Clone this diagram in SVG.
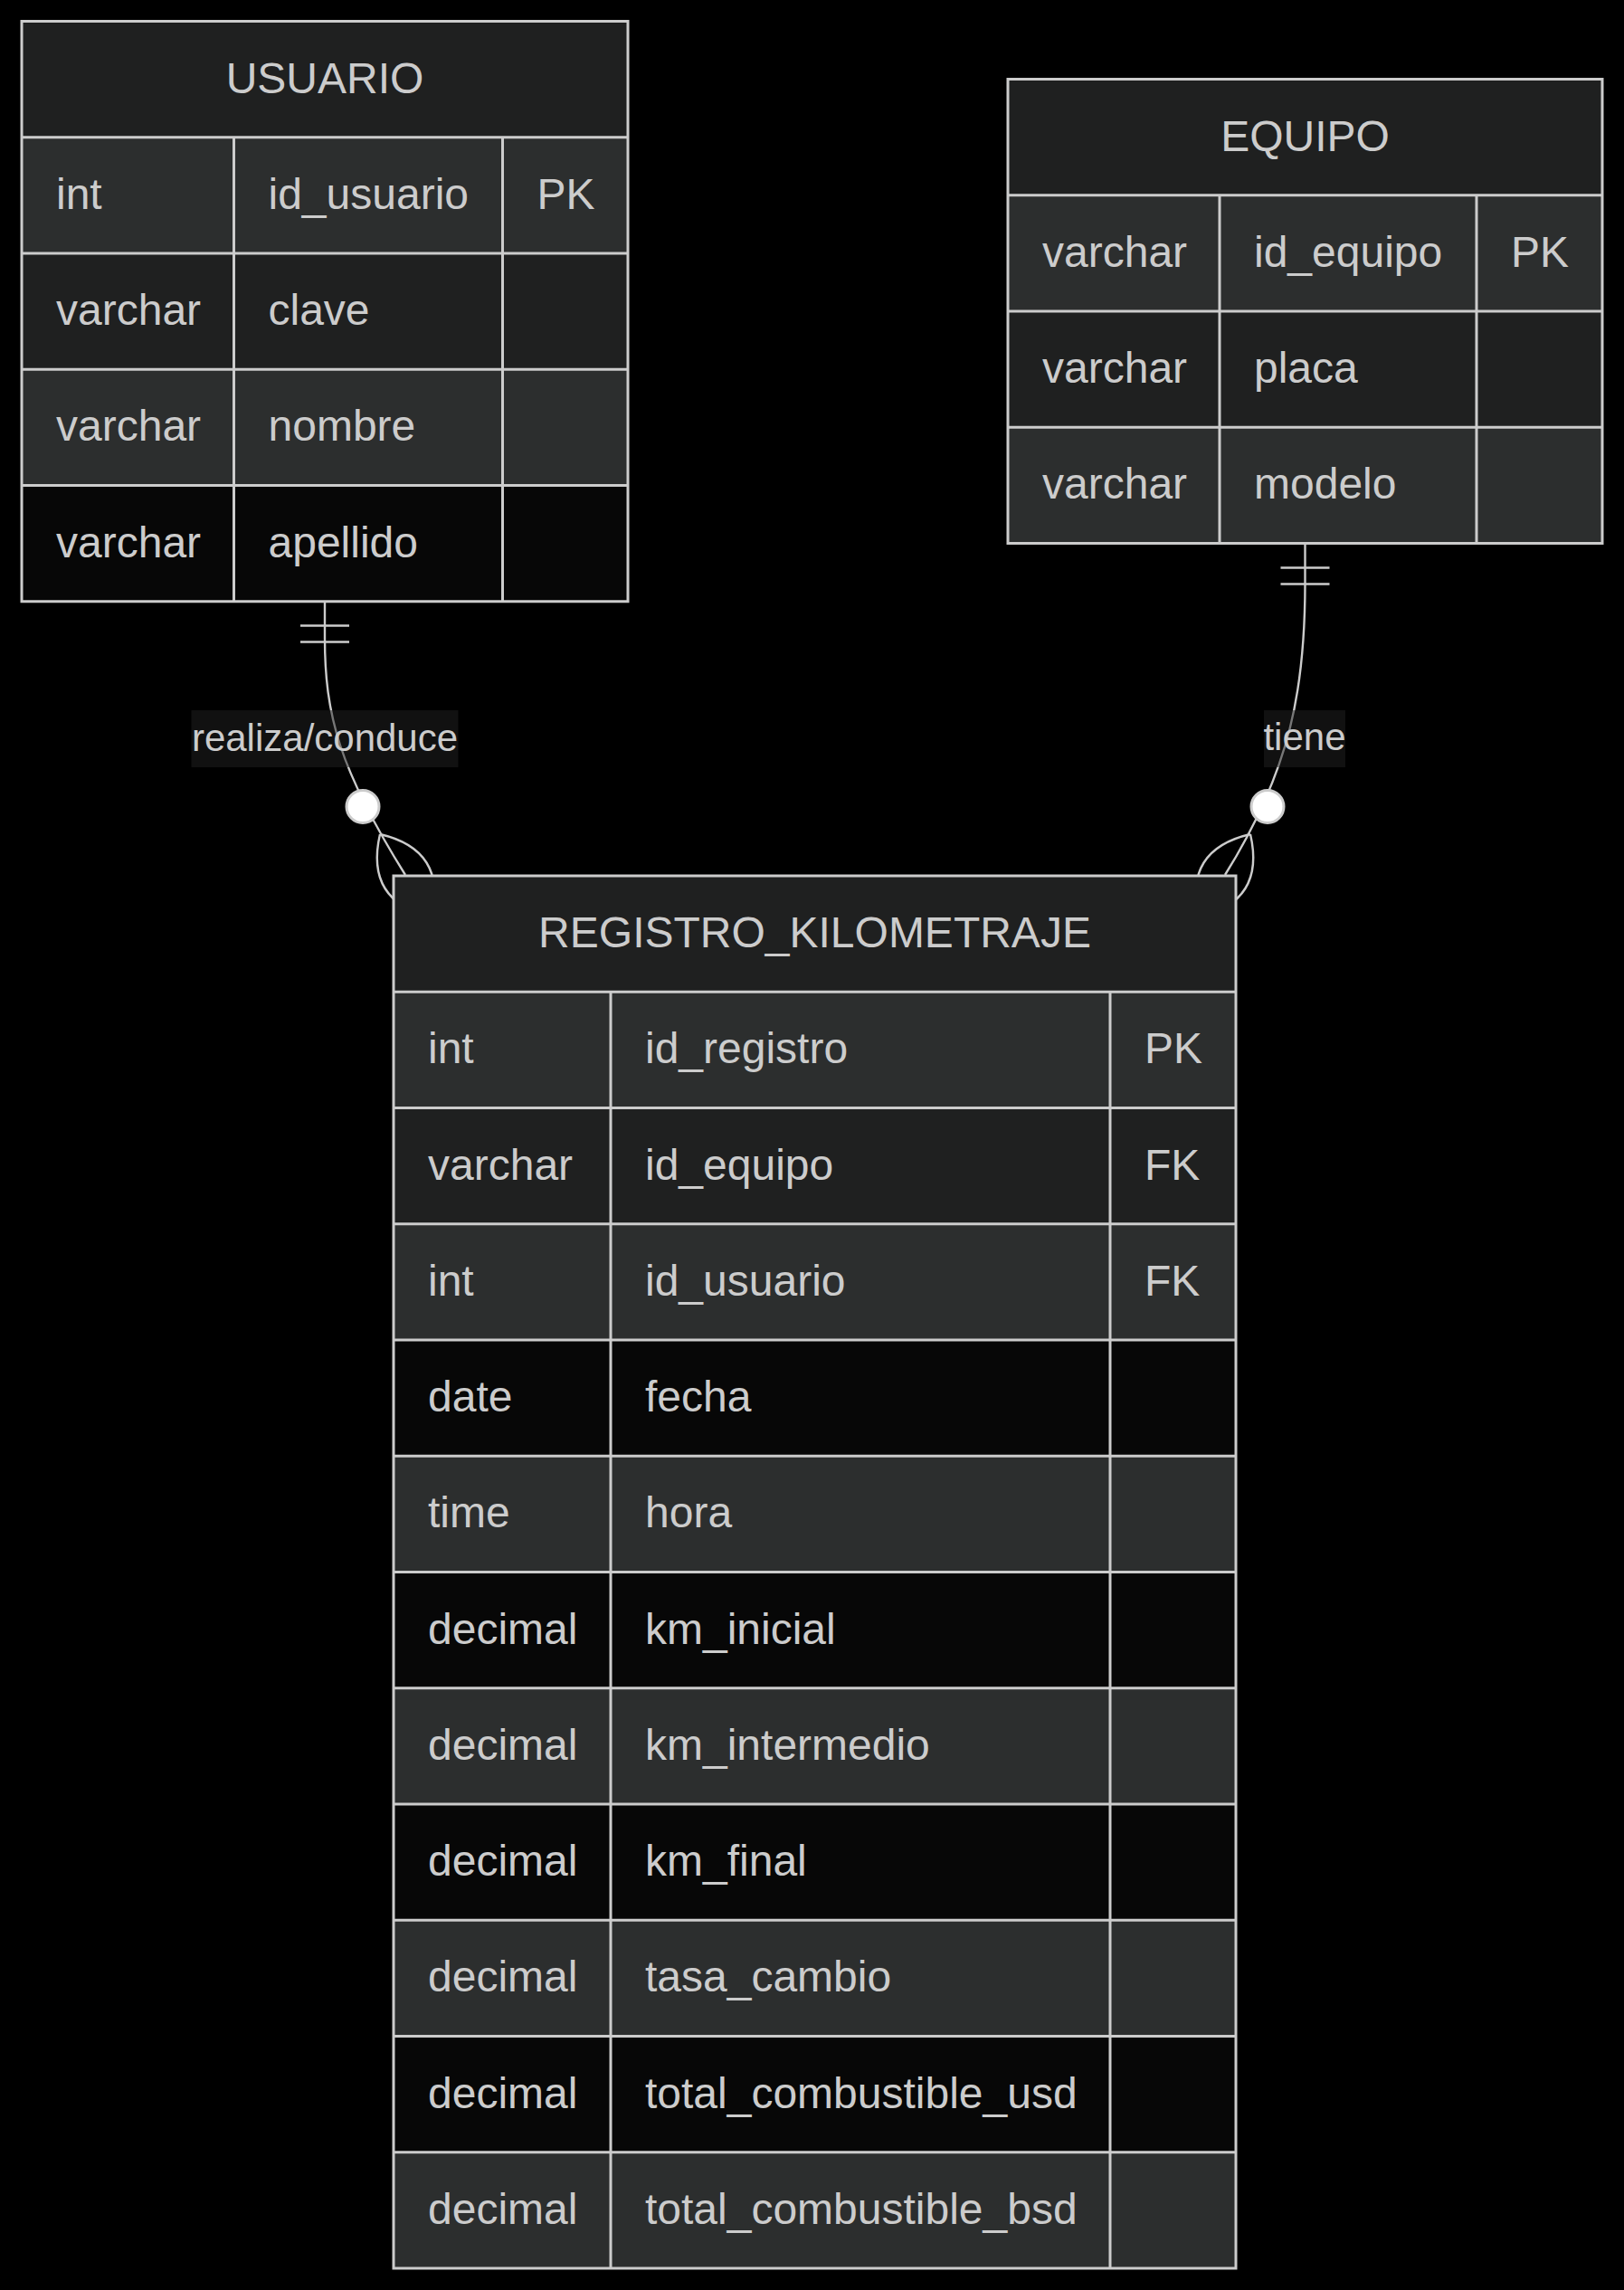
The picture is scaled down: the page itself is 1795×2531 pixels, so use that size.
<svg xmlns="http://www.w3.org/2000/svg" width="1795" height="2531" viewBox="0 0 1795 2531">
<style>
.bg{fill:#000}
.hd{fill:#1f2020}
.lt{fill:#2c2e2e}
.md{fill:#1f2020}
.dk{fill:#070707}
.grid{stroke:#cccccc;stroke-width:3;fill:none}
.t{font-family:"Liberation Sans",Arial,Helvetica,sans-serif;font-size:48px;fill:#cccccc}
.c{text-anchor:middle}
.edge{stroke:#cccccc;stroke-width:2.4;fill:none}
.dot{fill:#ffffff;stroke:#cccccc;stroke-width:3}
.lblbg{fill:#222222;fill-opacity:0.5}
.lbl{font-family:"Liberation Sans",Arial,Helvetica,sans-serif;font-size:42px;fill:#cccccc;text-anchor:middle}
</style>
<rect class="bg" x="0" y="0" width="1795" height="2531"/>

<g id="connectors">
  <g id="edge-usuario-registro">
    <path class="edge" d="M359,664.75 L359,705 C359,790 375,850 448,967"/>
    <path class="edge" d="M332,691.5 L386,691.5 M332,709.5 L386,709.5"/>
    <path class="edge" d="M420,922 Q494.4,939.2 477.1,1013.6 M420,922 Q402.8,996.4 477.1,1013.6"/>
    <circle class="dot" cx="401" cy="891.5" r="18"/>
    <rect class="lblbg" x="211.5" y="785" width="295" height="63"/>
    <text class="lbl" x="359" y="830">realiza/conduce</text>
  </g>
  <g id="edge-equipo-registro">
    <path class="edge" d="M1442.5,600.5 L1442.5,645 C1442.5,760 1427,850 1354,967"/>
    <path class="edge" d="M1415.5,627.5 L1469.5,627.5 M1415.5,645.5 L1469.5,645.5"/>
    <path class="edge" d="M1382,922 Q1399.2,996.4 1324.9,1013.6 M1382,922 Q1307.6,939.2 1324.9,1013.6"/>
    <circle class="dot" cx="1401" cy="891.5" r="18"/>
    <rect class="lblbg" x="1397" y="785" width="90" height="63"/>
    <text class="lbl" x="1442" y="829">tiene</text>
  </g>
</g>

<g id="USUARIO">
  <rect class="hd" x="24" y="23.5" width="670" height="128.25"/>
  <rect class="lt" x="24" y="151.75" width="670" height="128.25"/>
  <rect class="md" x="24" y="280" width="670" height="128.25"/>
  <rect class="lt" x="24" y="408.25" width="670" height="128.25"/>
  <rect class="dk" x="24" y="536.5" width="670" height="128.25"/>
  <path class="grid" d="M24,151.75 H694 M24,280 H694 M24,408.25 H694 M24,536.5 H694 M258.5,151.75 V664.75 M555.5,151.75 V664.75"/>
  <rect class="grid" x="24" y="23.5" width="670" height="641.25"/>
  <text class="t c" x="359" y="102.6">USUARIO</text>
  <text class="t" x="62" y="230.9">int</text>
  <text class="t" x="296.5" y="230.9">id_usuario</text>
  <text class="t" x="593.5" y="230.9">PK</text>
  <text class="t" x="62" y="359.1">varchar</text>
  <text class="t" x="296.5" y="359.1">clave</text>
  <text class="t" x="62" y="487.4">varchar</text>
  <text class="t" x="296.5" y="487.4">nombre</text>
  <text class="t" x="62" y="615.6">varchar</text>
  <text class="t" x="296.5" y="615.6">apellido</text>
</g>

<g id="EQUIPO">
  <rect class="hd" x="1114" y="87.5" width="657" height="128.25"/>
  <rect class="lt" x="1114" y="215.75" width="657" height="128.25"/>
  <rect class="md" x="1114" y="344" width="657" height="128.25"/>
  <rect class="lt" x="1114" y="472.25" width="657" height="128.25"/>
  <path class="grid" d="M1114,215.75 H1771 M1114,344 H1771 M1114,472.25 H1771 M1348,215.75 V600.5 M1632,215.75 V600.5"/>
  <rect class="grid" x="1114" y="87.5" width="657" height="513"/>
  <text class="t c" x="1442.5" y="166.6">EQUIPO</text>
  <text class="t" x="1152" y="294.9">varchar</text>
  <text class="t" x="1386" y="294.9">id_equipo</text>
  <text class="t" x="1670" y="294.9">PK</text>
  <text class="t" x="1152" y="423.1">varchar</text>
  <text class="t" x="1386" y="423.1">placa</text>
  <text class="t" x="1152" y="551.4">varchar</text>
  <text class="t" x="1386" y="551.4">modelo</text>
</g>

<g id="REGISTRO_KILOMETRAJE">
  <rect class="hd" x="435" y="968" width="931" height="128.25"/>
  <rect class="lt" x="435" y="1096.25" width="931" height="128.25"/>
  <rect class="md" x="435" y="1224.5" width="931" height="128.25"/>
  <rect class="lt" x="435" y="1352.75" width="931" height="128.25"/>
  <rect class="dk" x="435" y="1481" width="931" height="128.25"/>
  <rect class="lt" x="435" y="1609.25" width="931" height="128.25"/>
  <rect class="dk" x="435" y="1737.5" width="931" height="128.25"/>
  <rect class="lt" x="435" y="1865.75" width="931" height="128.25"/>
  <rect class="dk" x="435" y="1994" width="931" height="128.25"/>
  <rect class="lt" x="435" y="2122.25" width="931" height="128.25"/>
  <rect class="dk" x="435" y="2250.5" width="931" height="128.25"/>
  <rect class="lt" x="435" y="2378.75" width="931" height="128.25"/>
  <path class="grid" d="M435,1096.25 H1366 M435,1224.5 H1366 M435,1352.75 H1366 M435,1481 H1366 M435,1609.25 H1366 M435,1737.5 H1366 M435,1865.75 H1366 M435,1994 H1366 M435,2122.25 H1366 M435,2250.5 H1366 M435,2378.75 H1366 M675,1096.25 V2507 M1227,1096.25 V2507"/>
  <rect class="grid" x="435" y="968" width="931" height="1539"/>
  <text class="t c" x="900.5" y="1047.1">REGISTRO_KILOMETRAJE</text>
  <text class="t" x="473" y="1175.4">int</text>
  <text class="t" x="713" y="1175.4">id_registro</text>
  <text class="t" x="1265" y="1175.4">PK</text>
  <text class="t" x="473" y="1303.6">varchar</text>
  <text class="t" x="713" y="1303.6">id_equipo</text>
  <text class="t" x="1265" y="1303.6">FK</text>
  <text class="t" x="473" y="1431.9">int</text>
  <text class="t" x="713" y="1431.9">id_usuario</text>
  <text class="t" x="1265" y="1431.9">FK</text>
  <text class="t" x="473" y="1560.1">date</text>
  <text class="t" x="713" y="1560.1">fecha</text>
  <text class="t" x="473" y="1688.4">time</text>
  <text class="t" x="713" y="1688.4">hora</text>
  <text class="t" x="473" y="1816.6">decimal</text>
  <text class="t" x="713" y="1816.6">km_inicial</text>
  <text class="t" x="473" y="1944.9">decimal</text>
  <text class="t" x="713" y="1944.9">km_intermedio</text>
  <text class="t" x="473" y="2073.1">decimal</text>
  <text class="t" x="713" y="2073.1">km_final</text>
  <text class="t" x="473" y="2201.4">decimal</text>
  <text class="t" x="713" y="2201.4">tasa_cambio</text>
  <text class="t" x="473" y="2329.6">decimal</text>
  <text class="t" x="713" y="2329.6">total_combustible_usd</text>
  <text class="t" x="473" y="2457.9">decimal</text>
  <text class="t" x="713" y="2457.9">total_combustible_bsd</text>
</g>
</svg>
